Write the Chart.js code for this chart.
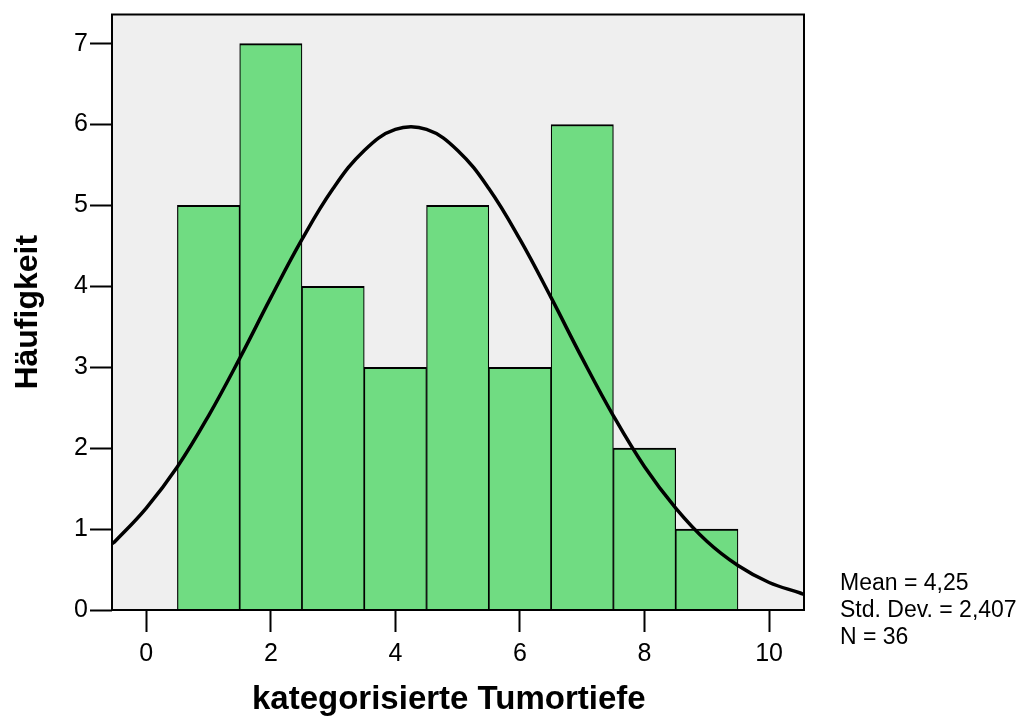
<!DOCTYPE html>
<html>
<head>
<meta charset="utf-8">
<script src="https://cdn.jsdelivr.net/npm/chart.js@4.4.0/dist/chart.umd.min.js"></script>
<style>
  body { margin: 0; background: #ffffff; }
  #wrap { width: 1022px; height: 718px; }
</style>
</head>
<body>
<div id="wrap"><canvas id="histo" width="1022" height="718"></canvas></div>
<script>
'use strict';

// Daten
var klassen = [1, 2, 3, 4, 5, 6, 7, 8, 9];
var haeufigkeit = [5, 7, 4, 3, 5, 3, 6, 2, 1];
// Normalkurve
var kurveX = [-0.55, -0.5, 0, 0.5, 1, 1.5, 2, 2.5, 3, 3.5, 4, 4.5, 5, 5.5, 6, 6.5, 7, 7.5, 8, 8.5, 9, 9.5, 10, 10.5, 10.56];
var kurveY = [0.82, 0.85, 1.26, 1.77, 2.40, 3.11, 3.86, 4.58, 5.21, 5.68, 5.94, 5.94, 5.68, 5.21, 4.58, 3.86, 3.11, 2.40, 1.77, 1.26, 0.85, 0.55, 0.34, 0.21, 0.19];
var xTicks = [0, 2, 4, 6, 8, 10];
var yTicks = [0, 1, 2, 3, 4, 5, 6, 7];
var statistik = ['Mean = 4,25', 'Std. Dev. = 2,407', 'N = 36'];

var schrift = '"Liberation Sans", Arial, Helvetica, sans-serif';

var balken = klassen.map(function (k, i) { return { x: k, y: haeufigkeit[i] }; });
var kurve = kurveX.map(function (x, i) { return { x: x, y: kurveY[i] }; });

// Hintergrund + Rahmen des Plotbereichs
var plotRahmen = {
    id: 'plotRahmen',
    beforeDatasetsDraw: function (chart) {
        var a = chart.chartArea, ctx = chart.ctx;
        ctx.save();
        ctx.fillStyle = '#efefef';
        ctx.fillRect(a.left, a.top, a.right - a.left, a.bottom - a.top);
        ctx.restore();
    },
    afterDraw: function (chart) {
        var a = chart.chartArea, ctx = chart.ctx;
        ctx.save();
        ctx.strokeStyle = '#000';
        ctx.lineWidth = 2;
        ctx.strokeRect(a.left, a.top, a.right - a.left, a.bottom - a.top);
        // Statistik-Text rechts unten
        ctx.fillStyle = '#000';
        ctx.font = '23px ' + schrift;
        ctx.textAlign = 'left';
        ctx.textBaseline = 'alphabetic';
        statistik.forEach(function (t, i) {
            ctx.fillText(t, 840, 590 + i * 27);
        });
        ctx.restore();
    }
};

new Chart(document.getElementById('histo').getContext('2d'), {
    data: {
        datasets: [{
            type: 'line',
            data: kurve,
            borderColor: '#000',
            borderWidth: 3.5,
            pointRadius: 0,
            tension: 0.4,
            fill: false
        }, {
            type: 'bar',
            data: balken,
            backgroundColor: '#70dc82',
            borderColor: '#000',
            borderWidth: { top: 2, left: 1.2, right: 1.2, bottom: 0 },
            borderSkipped: false,
            barPercentage: 1,
            categoryPercentage: 1
        }]
    },
    options: {
        responsive: false,
        animation: false,
        layout: { padding: { left: 0, top: 14, right: 218, bottom: 0 } },
        plugins: {
            legend: { display: false },
            tooltip: { enabled: false }
        },
        scales: {
            x: {
                type: 'linear',
                offset: false,
                min: -0.55,
                max: 10.56,
                afterBuildTicks: function (s) { s.ticks = xTicks.map(function (v) { return { value: v }; }); },
                afterFit: function (s) { s.height = 108; },
                border: { display: false },
                grid: { offset: false, drawOnChartArea: false, drawTicks: true, tickLength: 22, tickWidth: 2, tickColor: '#000', color: '#000' },
                ticks: { color: '#000', font: { family: schrift, size: 25, lineHeight: 1 }, padding: 10, maxRotation: 0, autoSkip: false },
                title: { display: true, text: 'kategorisierte Tumortiefe  ', color: '#000',
                         font: { family: schrift, size: 33, weight: 'bold', lineHeight: 1 }, padding: { top: 0, bottom: 2 } }
            },
            y: {
                min: 0,
                max: 7.36,
                afterBuildTicks: function (s) { s.ticks = yTicks.map(function (v) { return { value: v }; }); },
                afterFit: function (s) { s.width = 112; },
                border: { display: false },
                grid: { drawOnChartArea: false, drawTicks: true, tickLength: 22, tickWidth: 2, tickColor: '#000', color: '#000' },
                ticks: { color: '#000', font: { family: schrift, size: 25, lineHeight: 1 }, padding: 2 },
                title: { display: true, text: 'Häufigkeit', color: '#000',
                         font: { family: schrift, size: 32, weight: 'bold', lineHeight: 1 }, padding: { top: 12, bottom: 0 } }
            }
        }
    },
    plugins: [plotRahmen]
});
</script>
</body>
</html>
